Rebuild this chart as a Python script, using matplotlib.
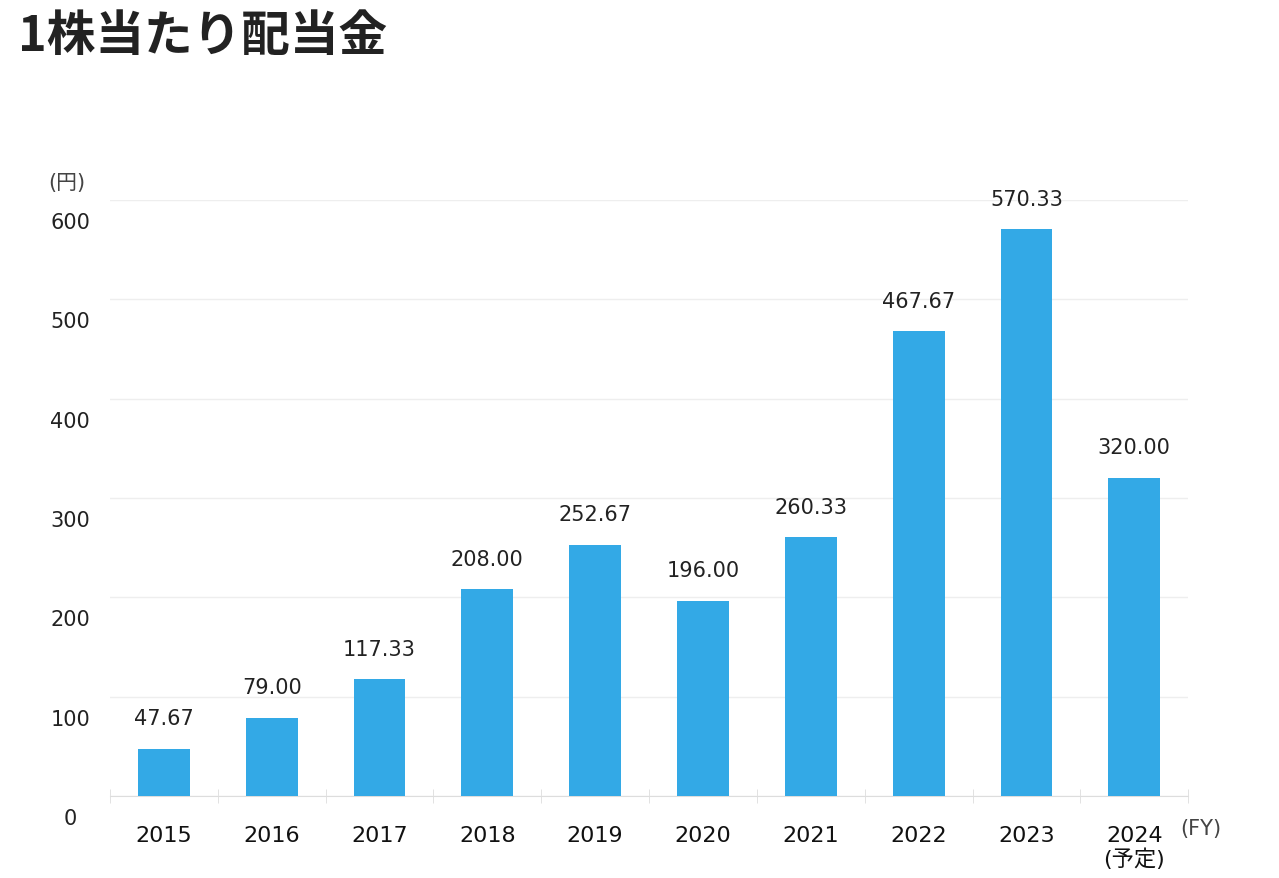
import matplotlib.pyplot as plt
import matplotlib.transforms as mtransforms
from matplotlib.ticker import FixedLocator

plt.rcParams['font.family'] = ['DejaVu Sans', 'Noto Sans CJK JP']

# データ
years = ['2015', '2016', '2017', '2018', '2019', '2020', '2021', '2022', '2023', '2024\n(予定)']
dividends = [47.67, 79.00, 117.33, 208.00, 252.67, 196.00, 260.33, 467.67, 570.33, 320.00]
yticks = [0, 100, 200, 300, 400, 500, 600]

bar_color = '#33a9e6'
text_color = '#222222'

fig = plt.figure(figsize=(12.79, 8.79), dpi=100)
ax = fig.add_axes([0.086, 0.0933, 0.843, 0.678])

x = list(range(len(years)))
ax.bar(x, dividends, width=0.48, color=bar_color, zorder=3)

# 値ラベル
for xi, v in zip(x, dividends):
    ax.annotate(f'{v:.2f}', (xi, v), xytext=(0, 15), textcoords='offset points',
                ha='center', va='bottom', fontsize=15, color=text_color, clip_on=False)

ax.set_xlim(-0.5, len(years) - 0.5)
ax.set_ylim(0, 600)

# 軸・グリッド
for s in ['top', 'right', 'left']:
    ax.spines[s].set_visible(False)
ax.spines['bottom'].set_color('#dddddd')
ax.set_yticks(yticks)
ax.yaxis.grid(True, color='#eeeeee', linewidth=1, zorder=0)
ax.tick_params(axis='y', length=0, labelleft=False)

# y軸ラベル（少し下にずらす）
ylab_tf = mtransforms.blended_transform_factory(ax.transAxes, ax.transData) + \
    mtransforms.ScaledTranslation(0, -22 / 100, fig.dpi_scale_trans)
for t in yticks:
    ax.text(-0.037, t, str(t), transform=ylab_tf, ha='center', va='center',
            fontsize=15, color=text_color)

ax.set_xticks(x)
ax.set_xticklabels(years, fontsize=16, color='#111111', linespacing=1.15)
ax.tick_params(axis='x', length=0, pad=21)
ax.xaxis.set_minor_locator(FixedLocator([i - 0.5 for i in range(len(years) + 1)]))
ax.tick_params(axis='x', which='minor', length=10, direction='inout', color='#dddddd')

ax.text(-0.04, 1.03, '(円)', transform=ax.transAxes, ha='center', va='center',
        fontsize=15, color='#444444')
ax.text(0.993, -0.053, '(FY)', transform=ax.transAxes, ha='left', va='center',
        fontsize=15, color='#444444')

fig.text(0.014, 0.958, '1株当たり配当金', ha='left', va='center',
         fontsize=35, fontweight='bold', color='#222222',
         family=['Noto Sans CJK JP', 'DejaVu Sans'])

fig.savefig('out.png', dpi=100)
